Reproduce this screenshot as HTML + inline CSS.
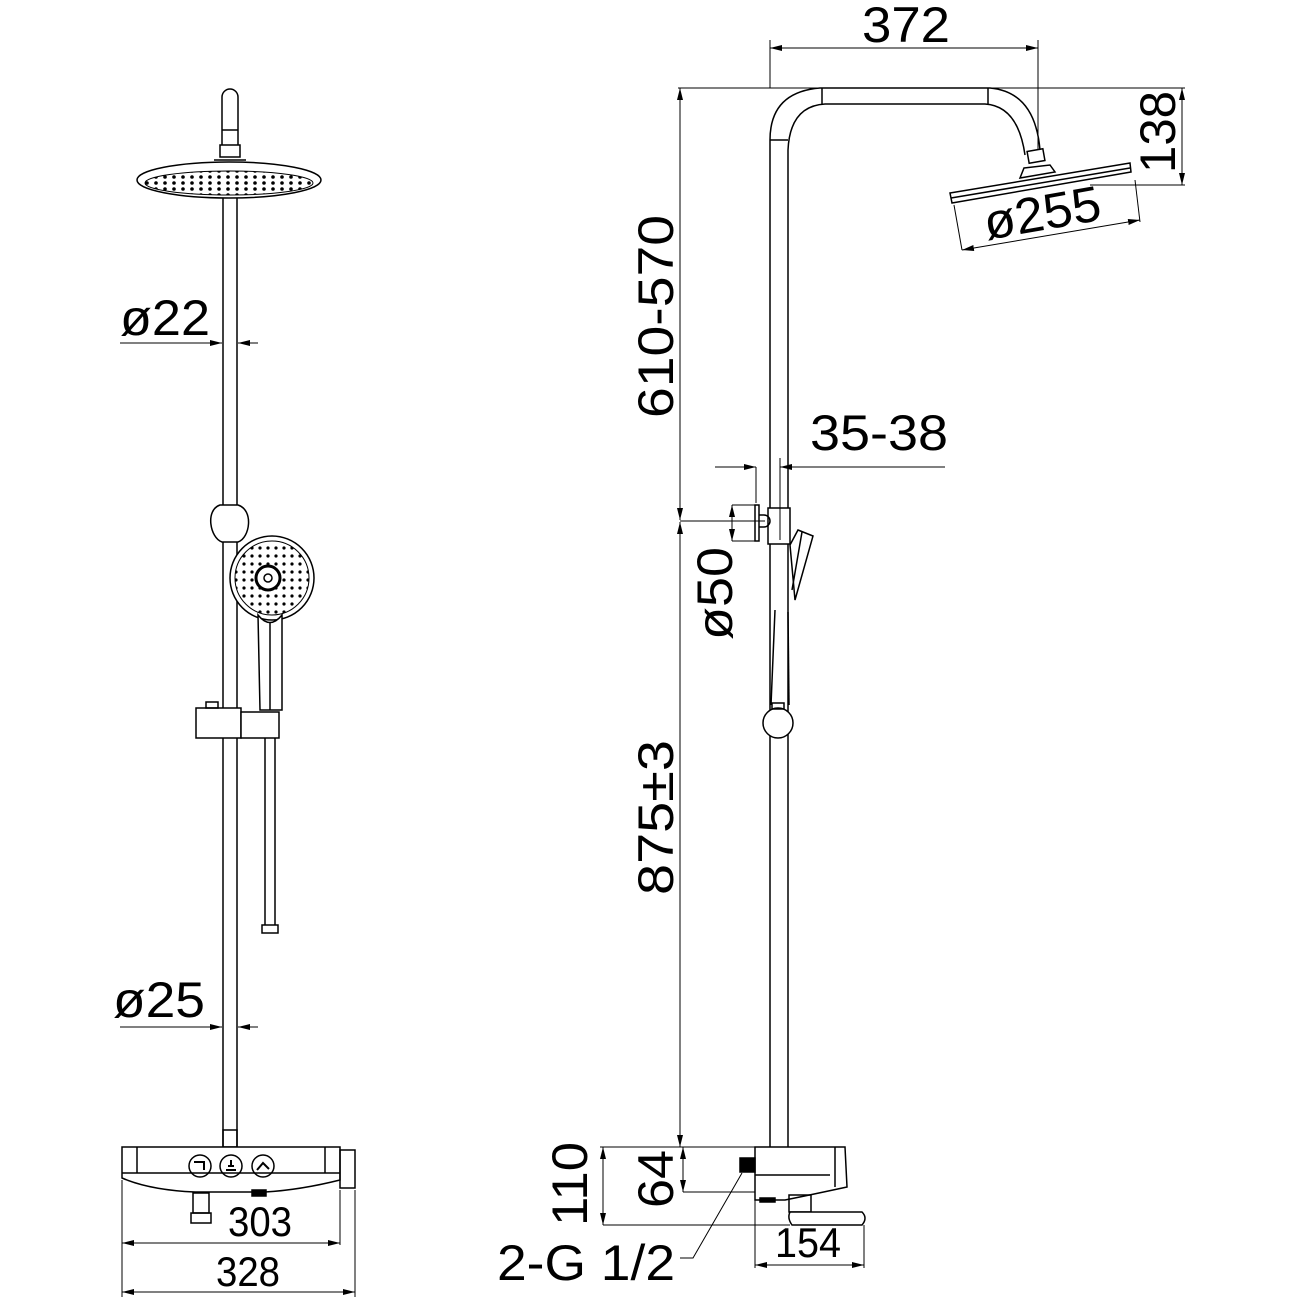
<!DOCTYPE html>
<html><head><meta charset="utf-8"><style>
html,body{margin:0;padding:0;background:#fff;}
svg{display:block;}
text{font-family:"Liberation Sans",sans-serif;fill:#000;}
</style></head><body>
<svg width="1300" height="1300" viewBox="0 0 1300 1300" xmlns="http://www.w3.org/2000/svg">
<defs>
<marker id="a" markerWidth="12" markerHeight="6" refX="12" refY="3" orient="auto-start-reverse" markerUnits="userSpaceOnUse"><path d="M0,0 L12,3 L0,6 Z" fill="#000"/></marker>
<pattern id="dots" width="9" height="6" patternUnits="userSpaceOnUse"><circle cx="3" cy="3" r="1.8" fill="#000"/></pattern>
<pattern id="dots2" width="8" height="8" patternUnits="userSpaceOnUse"><circle cx="4" cy="4" r="1.6" fill="#000"/></pattern>
</defs>
<g fill="none" stroke="#000" stroke-width="1.5">
<!-- LEFT VIEW -->
<path d="M222,145 L222,97 A8,8 0 0 1 238,97 L238,145"/>
<line x1="222" y1="130" x2="238" y2="130"/>
<rect x="220" y="145" width="20" height="12"/>
<path d="M214,160 L246,160"/>
<ellipse cx="229" cy="180" rx="92" ry="18"/>
<ellipse cx="229" cy="183" rx="84" ry="12" fill="url(#dots)" stroke-width="1"/>
<line x1="223" y1="198" x2="223" y2="1147"/>
<line x1="237" y1="198" x2="237" y2="1147"/>
<path d="M220,505 C205,510 210,538 222,542 L238,542 C250,538 254,510 238,505 Z" fill="#fff"/>
<circle cx="272" cy="578" r="42" fill="#fff"/>
<circle cx="272" cy="578" r="37" fill="url(#dots2)" stroke-width="1"/>
<circle cx="268" cy="578" r="12" fill="#fff" stroke-width="3"/>
<circle cx="268" cy="578" r="4"/>
<path d="M258,615 Q270,630 282,615 L282,710 L260,710 Z" fill="#fff"/>
<line x1="270" y1="622" x2="270" y2="710"/>
<rect x="196" y="708" width="45" height="30" fill="#fff"/>
<rect x="241" y="712" width="38" height="26" fill="#fff"/>
<rect x="206" y="702" width="12" height="6"/>
<line x1="265" y1="738" x2="265" y2="925"/>
<line x1="275" y1="738" x2="275" y2="925"/>
<rect x="262" y="925" width="16" height="8"/>
<rect x="223" y="1130" width="14" height="17"/>
<path d="M122,1147 L340,1147 L340,1180 Q300,1190 265,1192 L195,1192 Q150,1190 122,1178 Z" fill="#fff"/>
<line x1="122" y1="1173" x2="340" y2="1173"/>
<line x1="137" y1="1147" x2="137" y2="1173"/>
<line x1="325" y1="1147" x2="325" y2="1173"/>
<rect x="340" y="1150" width="15" height="38"/>
<circle cx="200" cy="1166" r="11"/>
<circle cx="231" cy="1166" r="11"/>
<circle cx="263" cy="1166" r="11"/>
<path d="M194,1162 h10 v8" stroke-width="2"/>
<path d="M257,1170 l6,-7 l6,6" stroke-width="2"/>
<path d="M226,1170 h10 M228,1166 h6 M231,1160 v6" stroke-width="2"/>
<path d="M193,1193 h16 v20 h-16 z"/>
<path d="M191,1213 h20 v10 h-20 z"/>
<rect x="252" y="1190" width="14" height="6" fill="#000"/>
<line x1="120" y1="343" x2="222" y2="343" stroke-width="1" marker-end="url(#a)"/>
<line x1="258" y1="343" x2="238" y2="343" stroke-width="1" marker-end="url(#a)"/>
<line x1="120" y1="1027" x2="222" y2="1027" stroke-width="1" marker-end="url(#a)"/>
<line x1="258" y1="1027" x2="238" y2="1027" stroke-width="1" marker-end="url(#a)"/>
<line x1="122" y1="1180" x2="122" y2="1297" stroke-width="1"/>
<line x1="340" y1="1190" x2="340" y2="1245" stroke-width="1"/>
<line x1="355" y1="1190" x2="355" y2="1297" stroke-width="1"/>
<line x1="122" y1="1243" x2="340" y2="1243" stroke-width="1" marker-start="url(#a)" marker-end="url(#a)"/>
<line x1="122" y1="1292" x2="355" y2="1292" stroke-width="1" marker-start="url(#a)" marker-end="url(#a)"/>

<!-- RIGHT VIEW -->
<path d="M770,1147 L770,140 Q770,92 820,88 L990,88 Q1035,92 1040,150"/>
<path d="M788,1147 L788,150 Q790,106 825,104 L985,104 Q1018,106 1025,155"/>
<line x1="822" y1="88" x2="822" y2="104"/>
<line x1="988" y1="88" x2="988" y2="104"/>
<line x1="770" y1="140" x2="788" y2="140"/>
<rect x="1028" y="150" width="16" height="12" transform="rotate(-10 1036 156)"/>
<path d="M1024,168 L1050,165 L1055,172 L1020,178 Z"/>
<path d="M950,193 L1130,163 L1131,172 L952,203 Z" fill="#fff"/>
<line x1="951" y1="198" x2="1130" y2="168"/>
<rect x="768" y="508" width="22" height="36" fill="#fff"/>
<rect x="755" y="505" width="4" height="36"/>
<path d="M759,515 h5 a6,6 0 0 1 0,12 h-5"/>
<path d="M790,545 L798,530 L813,536 L795,600 Z" fill="#fff"/>
<line x1="802" y1="532" x2="792" y2="590"/>
<line x1="775" y1="610" x2="771" y2="705"/>
<line x1="788" y1="612" x2="789" y2="705"/>
<circle cx="778" cy="723" r="15" fill="#fff"/>
<rect x="772" y="703" width="12" height="6"/>
<path d="M755,1147 L845,1147 L847,1187 Q810,1195 785,1200 L755,1200 Z" fill="#fff"/>
<line x1="755" y1="1175" x2="830" y2="1175"/>
<line x1="835" y1="1147" x2="835" y2="1187"/>
<rect x="740" y="1158" width="15" height="14" fill="#000"/>
<rect x="760" y="1198" width="15" height="4" fill="#000"/>
<rect x="789" y="1195" width="22" height="17"/>
<path d="M790,1212 L862,1212 Q868,1218 862,1225 L792,1225 Q787,1218 790,1212 Z" fill="#fff"/>
<path d="M680,1258 L693,1258 L742,1173" stroke-width="1"/>
<line x1="770" y1="40" x2="770" y2="88" stroke-width="1"/>
<line x1="1038" y1="40" x2="1038" y2="150" stroke-width="1"/>
<line x1="770" y1="48" x2="1038" y2="48" stroke-width="1" marker-start="url(#a)" marker-end="url(#a)"/>
<line x1="678" y1="88" x2="1185" y2="88" stroke-width="1"/>
<line x1="1090" y1="185" x2="1185" y2="185" stroke-width="1"/>
<line x1="1182" y1="88" x2="1182" y2="185" stroke-width="1" marker-start="url(#a)" marker-end="url(#a)"/>
<line x1="954" y1="205" x2="962" y2="250" stroke-width="1"/>
<line x1="1135" y1="180" x2="1140" y2="222" stroke-width="1"/>
<line x1="962" y1="250" x2="1140" y2="220" stroke-width="1" marker-start="url(#a)" marker-end="url(#a)"/>
<line x1="680" y1="88" x2="680" y2="100" stroke-width="1" marker-start="url(#a)"/>
<line x1="680" y1="522" x2="680" y2="1147" stroke-width="1" marker-start="url(#a)" marker-end="url(#a)"/>
<line x1="680" y1="90" x2="680" y2="520" stroke-width="1" marker-end="url(#a)"/>
<line x1="680" y1="521" x2="765" y2="521" stroke-width="1"/>
<line x1="715" y1="467" x2="756" y2="467" stroke-width="1" marker-end="url(#a)"/>
<line x1="945" y1="467" x2="780" y2="467" stroke-width="1" marker-end="url(#a)"/>
<line x1="756" y1="467" x2="756" y2="503" stroke-width="1"/>
<line x1="780" y1="458" x2="780" y2="540" stroke-width="1"/>
<line x1="732" y1="505" x2="755" y2="505" stroke-width="1"/>
<line x1="732" y1="541" x2="755" y2="541" stroke-width="1"/>
<line x1="732" y1="505" x2="732" y2="541" stroke-width="1" marker-start="url(#a)" marker-end="url(#a)"/>
<line x1="600" y1="1147" x2="770" y2="1147" stroke-width="1"/>
<line x1="683" y1="1192" x2="755" y2="1192" stroke-width="1"/>
<line x1="683" y1="1147" x2="683" y2="1192" stroke-width="1" marker-start="url(#a)" marker-end="url(#a)"/>
<line x1="603" y1="1225" x2="790" y2="1225" stroke-width="1"/>
<line x1="603" y1="1147" x2="603" y2="1225" stroke-width="1" marker-start="url(#a)" marker-end="url(#a)"/>
<line x1="755" y1="1200" x2="755" y2="1268" stroke-width="1"/>
<line x1="864" y1="1225" x2="864" y2="1268" stroke-width="1"/>
<line x1="755" y1="1265" x2="864" y2="1265" stroke-width="1" marker-start="url(#a)" marker-end="url(#a)"/>
</g>
<g font-size="50">
<text x="120" y="335" textLength="90" lengthAdjust="spacingAndGlyphs">ø22</text>
<text x="113" y="1017" textLength="92" lengthAdjust="spacingAndGlyphs">ø25</text>
<text x="228" y="1236" textLength="64" lengthAdjust="spacingAndGlyphs" font-size="42">303</text>
<text x="216" y="1286" textLength="64" lengthAdjust="spacingAndGlyphs" font-size="42">328</text>
<text x="862" y="42" textLength="88" lengthAdjust="spacingAndGlyphs">372</text>
<text x="810" y="450" textLength="138" lengthAdjust="spacingAndGlyphs">35-38</text>
<text x="497" y="1280" textLength="178" lengthAdjust="spacingAndGlyphs">2-G 1/2</text>
<text x="775" y="1257" textLength="66" lengthAdjust="spacingAndGlyphs" font-size="42">154</text>
<text transform="translate(1175,173) rotate(-90)" textLength="82" lengthAdjust="spacingAndGlyphs">138</text>
<text transform="translate(987,240) rotate(-10)" textLength="118" lengthAdjust="spacingAndGlyphs">ø255</text>
<text transform="translate(673,418) rotate(-90)" textLength="203" lengthAdjust="spacingAndGlyphs">610-570</text>
<text transform="translate(673,895) rotate(-90)" textLength="155" lengthAdjust="spacingAndGlyphs">875±3</text>
<text transform="translate(732,640) rotate(-90)" textLength="93" lengthAdjust="spacingAndGlyphs">ø50</text>
<text transform="translate(587,1226) rotate(-90)" textLength="84" lengthAdjust="spacingAndGlyphs">110</text>
<text transform="translate(673,1208) rotate(-90)" textLength="58" lengthAdjust="spacingAndGlyphs">64</text>
</g>
</svg>
</body></html>
